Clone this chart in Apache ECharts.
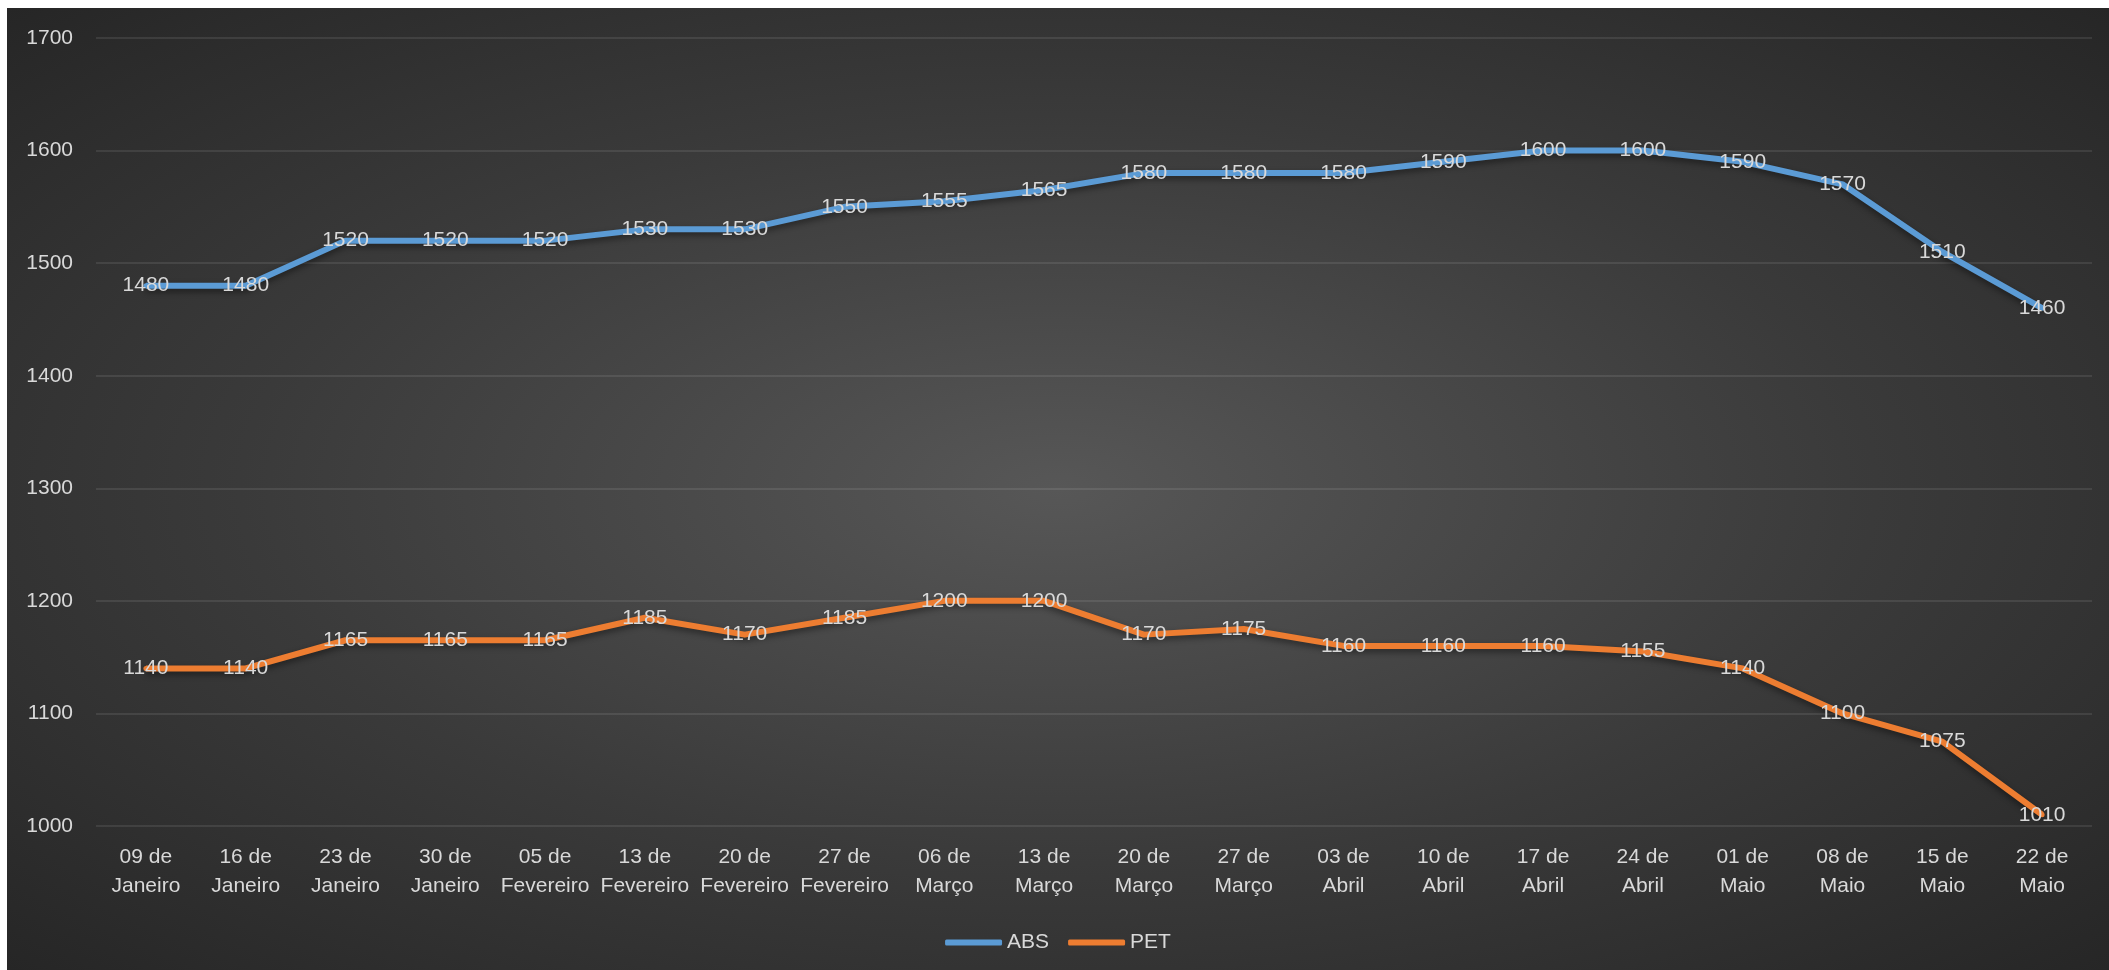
<!DOCTYPE html>
<html>
<head>
<meta charset="utf-8">
<script src="https://cdn.jsdelivr.net/npm/echarts@6/dist/echarts.min.js"></script>
<style>
html, body { margin: 0; padding: 0; background: #ffffff; }
#chart {
    position: absolute; left: 7px; top: 8px; width: 2102px; height: 962px;
    background: radial-gradient(ellipse at center, #575757 0%, #3a3a3a 55%, #262626 100%);
}
</style>
</head>
<body>
<div id="chart"></div>
<script>
var categories = ['09 de\nJaneiro', '16 de\nJaneiro', '23 de\nJaneiro', '30 de\nJaneiro',
    '05 de\nFevereiro', '13 de\nFevereiro', '20 de\nFevereiro', '27 de\nFevereiro',
    '06 de\nMarço', '13 de\nMarço', '20 de\nMarço', '27 de\nMarço',
    '03 de\nAbril', '10 de\nAbril', '17 de\nAbril', '24 de\nAbril',
    '01 de\nMaio', '08 de\nMaio', '15 de\nMaio', '22 de\nMaio'];
var absValues = [1480, 1480, 1520, 1520, 1520, 1530, 1530, 1550, 1555, 1565,
    1580, 1580, 1580, 1590, 1600, 1600, 1590, 1570, 1510, 1460];
var petValues = [1140, 1140, 1165, 1165, 1165, 1185, 1170, 1185, 1200, 1200,
    1170, 1175, 1160, 1160, 1160, 1155, 1140, 1100, 1075, 1010];
var seriesNames = ['ABS', 'PET'];
var seriesColors = ['#5b9bd5', '#ed7d31'];

var font = '"Liberation Sans", "Open Sans", sans-serif';
var textColor = '#d9d9d9';

function makeSeries(name, data, color) {
    return {
        name: name,
        type: 'line',
        data: data,
        symbol: 'circle',
        symbolSize: 5,
        itemStyle: { color: color },
        lineStyle: {
            color: color,
            width: 6,
            shadowColor: 'rgba(0,0,0,0.45)',
            shadowBlur: 6,
            shadowOffsetY: 3
        },
        label: {
            show: true,
            position: 'inside',
            color: textColor,
            fontFamily: font,
            fontSize: 21
        },
        emphasis: { disabled: true },
        animation: false
    };
}

var myChart = echarts.init(document.getElementById('chart'));

var option = {
    backgroundColor: 'transparent',
    textStyle: { fontFamily: font },
    grid: { left: 89, right: 17, top: 30, bottom: 144 },
    legend: {
        data: seriesNames.map(function (n, i) {
            return { name: n, icon: 'roundRect', itemStyle: { color: seriesColors[i] } };
        }),
        left: 'center',
        top: 919,
        itemWidth: 57,
        itemHeight: 6,
        itemGap: 19,
        textStyle: { color: textColor, fontSize: 21, fontFamily: font }
    },
    xAxis: {
        type: 'category',
        data: categories,
        boundaryGap: true,
        axisLine: { show: false },
        axisTick: { show: false },
        axisLabel: {
            color: textColor,
            fontSize: 21,
            fontFamily: font,
            lineHeight: 29,
            margin: 17,
            interval: 0
        }
    },
    yAxis: {
        type: 'value',
        min: 1000,
        max: 1700,
        interval: 100,
        axisLine: { show: false },
        axisTick: { show: false },
        axisLabel: {
            color: textColor,
            fontSize: 21,
            fontFamily: font,
            margin: 23,
            formatter: function (v) { return String(v); }
        },
        splitLine: { lineStyle: { color: 'rgba(255,255,255,0.12)', width: 1.5 } }
    },
    series: [
        makeSeries(seriesNames[0], absValues, seriesColors[0]),
        makeSeries(seriesNames[1], petValues, seriesColors[1])
    ]
};

myChart.setOption(option);
</script>
</body>
</html>
